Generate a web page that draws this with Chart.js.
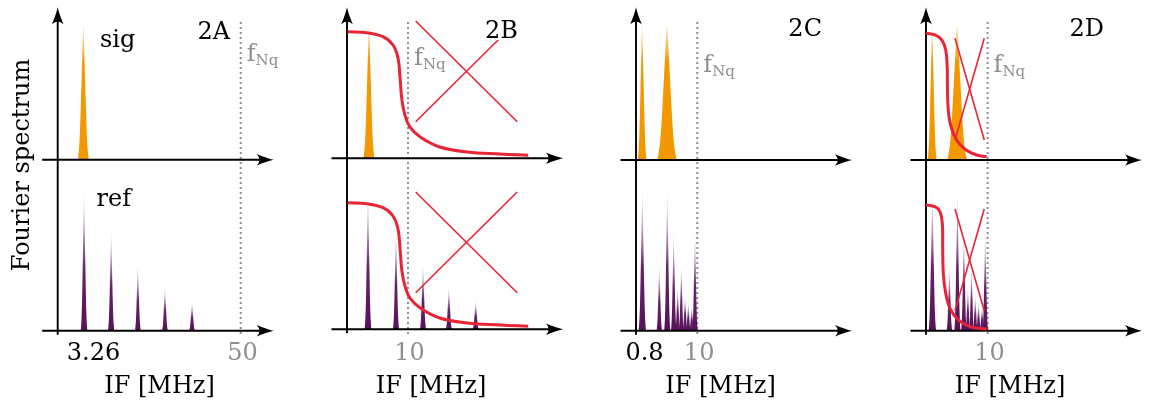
<!DOCTYPE html>
<html>
<head>
<meta charset="utf-8">
<script src="https://cdn.jsdelivr.net/npm/chart.js@4.4.1/dist/chart.umd.min.js"></script>
<style>
html, body { margin: 0; padding: 0; background: #fff; }
#fig { position: relative; width: 1155px; height: 405px; overflow: hidden; }
#fig canvas { position: absolute; top: 0; }
</style>
</head>
<body>
<div id="fig">
  <canvas id="pA" width="290" height="405" style="left:0px"></canvas>
  <canvas id="pB" width="290" height="405" style="left:290px"></canvas>
  <canvas id="pC" width="290" height="405" style="left:580px"></canvas>
  <canvas id="pD" width="285" height="405" style="left:870px"></canvas>
</div>
<script>
// ---- data (x: IF in MHz as drawn, y: relative amplitude, w: half line width) ----
const sigXA = [7.0];
const sigHA = [1.01];
const sigWA = [1.5];
const refXA = [7.2, 14.6, 21.9, 29.3, 36.7];
const refHA = [1.02, 0.73, 0.48, 0.32, 0.21];
const refWA = [0.9, 0.85, 0.8, 0.8, 0.8];

const sigXB = [3.6];
const sigHB = [1.0];
const sigWB = [0.9];
const refXB = [3.44, 8.03, 12.46, 16.7, 21.1];
const refHB = [1.01, 0.72, 0.48, 0.31, 0.21];
const refWB = [0.55, 0.5, 0.5, 0.5, 0.5];

const sigXC = [1.0, 5.05];
const sigHC = [1.01, 1.01];
const sigWC = [0.72, 1.6];
const refXC = [1.03, 3.8, 5.1, 6.15, 6.8, 7.39, 8.0, 8.53, 9.09, 9.62];
const refHC = [1.02, 0.48, 1.02, 0.72, 0.32, 0.48, 0.26, 0.21, 0.18, 0.72];
const refWC = [0.6, 0.45, 0.5, 0.45, 0.4, 0.4, 0.4, 0.4, 0.4, 0.45];

// low pass filter curves (red)
const filtXB = [0.1, 3.28, 5.9, 7.54, 8.36, 8.69, 9.0, 9.5, 10.3, 12.0, 15.2, 19.7, 25.1, 29.7];
const filtYB = [0.917, 0.910, 0.881, 0.821, 0.727, 0.589, 0.423, 0.314, 0.227, 0.154, 0.082, 0.046, 0.031, 0.022];
const filtXD1 = [0.0, 1.46, 2.55, 3.2, 3.44, 3.48, 3.62, 4.06, 4.98, 6.33, 8.23, 9.85];
const filtYD1 = [0.918, 0.906, 0.87, 0.797, 0.676, 0.531, 0.362, 0.241, 0.145, 0.078, 0.036, 0.024];
const filtXD2 = [0.0, 1.46, 2.27, 2.65, 2.71, 2.81, 3.2, 3.9, 5.24, 7.14, 9.85];
const filtYD2 = [0.911, 0.899, 0.862, 0.778, 0.609, 0.416, 0.271, 0.162, 0.078, 0.029, 0.010];

// crossed-out regions
const crossXB = [11.26, 27.9];
const crossDownB = [0.995, 0.265];
const crossUpB = [0.265, 0.995];
const crossXD = [4.71, 9.46];
const crossDownD = [0.882, 0.145];
const crossUpD = [0.145, 0.882];

// tick labels
const tickPosA = [9.78, 50.5];
const tickLabA = ['3.26', '50'];
const tickPosB = [10.25];
const tickLabB = ['10'];
const tickPosC = [1.39, 10.3];
const tickLabC = ['0.8', '10'];
const tickPosD = [10.3];
const tickLabD = ['10'];

const panelNames = ['2A', '2B', '2C', '2D'];
const nyquist = [50, 10, 10, 10];

// ---- style ----
const FONT = '"DejaVu Serif", "Liberation Serif", serif';
const FS = 24;
const GRAY = '#8e8e8e';
const RED = 'rgb(232,36,54)';
const ORANGE = [243, 152, 0];
const PURPLE = [88, 18, 90];
const PXY = 138; // px per unit of amplitude

function pts(xs, ys) {
    return xs.map((x, i) => ({ x: x, y: ys[i] }));
}

function peakSet(xs, hs, ws, axis, rgb) {
    return { type: 'scatter', data: pts(xs, hs), yAxisID: axis, pointRadius: 0,
             showLine: false, peakRgb: rgb, widths: ws };
}

function redLine(xs, ys, axis, w) {
    return { type: 'line', data: pts(xs, ys), yAxisID: axis, borderColor: RED,
             borderWidth: w, pointRadius: 0, tension: w > 2 ? 0.4 : 0, fill: false };
}

function drawPeak(ctx, x, yTop, base, hw, rgb) {
    const h = base - yTop;
    const n = 28;
    const k = u => 0.75 * (1 - u) + 0.25 * Math.pow(1 - u, 12);
    ctx.beginPath();
    ctx.moveTo(x - hw, base);
    for (let i = 1; i <= n; i++) {
        const u = i / n;
        ctx.lineTo(x - hw * k(u), base - h * u);
    }
    for (let i = n - 1; i >= 0; i--) {
        const u = i / n;
        ctx.lineTo(x + hw * k(u), base - h * u);
    }
    ctx.closePath();
    const g = ctx.createLinearGradient(0, base, 0, yTop);
    const c = rgb.join(',');
    if (rgb === ORANGE) {
        g.addColorStop(0, 'rgba(' + c + ',1)');
        g.addColorStop(0.7, 'rgba(' + c + ',1)');
        g.addColorStop(1, 'rgba(' + c + ',0.15)');
    } else {
        g.addColorStop(0, 'rgba(' + c + ',1)');
        g.addColorStop(0.45, 'rgba(' + c + ',0.92)');
        g.addColorStop(1, 'rgba(150,90,160,0.1)');
    }
    ctx.fillStyle = g;
    ctx.fill();
}

function arrowHead(ctx, tx, ty, up) {
    ctx.save();
    ctx.translate(tx, ty);
    if (up) ctx.rotate(-Math.PI / 2);
    ctx.beginPath();
    ctx.moveTo(0, 0);
    ctx.quadraticCurveTo(-7, -1.5, -17, -5.8);
    ctx.quadraticCurveTo(-11.5, 0, -17, 5.8);
    ctx.quadraticCurveTo(-7, 1.5, 0, 0);
    ctx.fillStyle = '#000';
    ctx.fill();
    ctx.restore();
}

function text(ctx, s, x, y, size, color, align) {
    ctx.font = size + 'px ' + FONT;
    ctx.fillStyle = color;
    ctx.textAlign = align || 'left';
    ctx.textBaseline = 'alphabetic';
    ctx.fillText(s, x, y);
}

const figPlugin = {
    id: 'fig',
    beforeDatasetsDraw(chart) {
        const p = chart.options.plugins.fig;
        const ctx = chart.ctx;
        const xs = chart.scales.x;
        const ox = xs.getPixelForValue(0);
        const b1 = chart.scales.ySig.getPixelForValue(0);
        const b2 = chart.scales.yRef.getPixelForValue(0);

        // Nyquist frequency
        const fx = xs.getPixelForValue(p.fnq);
        ctx.save();
        ctx.strokeStyle = GRAY;
        ctx.lineWidth = 2;
        ctx.setLineDash([2, 3]);
        ctx.beginPath();
        ctx.moveTo(fx, 22);
        ctx.lineTo(fx, b2 + 5);
        ctx.stroke();
        ctx.restore();

        // spectral lines
        chart.data.datasets.forEach((ds, i) => {
            if (!ds.peakRgb) return;
            const meta = chart.getDatasetMeta(i);
            const base = chart.scales[ds.yAxisID].getPixelForValue(0);
            const unit = xs.getPixelForValue(1) - ox;
            meta.data.forEach((el, j) => {
                drawPeak(ctx, el.x, el.y, base, ds.widths[j] * unit, ds.peakRgb);
            });
        });

        // axes with arrows
        ctx.save();
        ctx.strokeStyle = '#000';
        ctx.lineWidth = 1.9;
        ctx.beginPath();
        ctx.moveTo(ox, b2 + 4);
        ctx.lineTo(ox, 17);
        [b1, b2].forEach(b => {
            ctx.moveTo(ox - 15.5, b);
            ctx.lineTo(ox + 206, b);
        });
        ctx.stroke();
        ctx.restore();
        arrowHead(ctx, ox, 7.3, true);
        arrowHead(ctx, ox + 216, b1, false);
        arrowHead(ctx, ox + 216, b2, false);
    },
    afterDatasetsDraw(chart) {
        const p = chart.options.plugins.fig;
        const ctx = chart.ctx;
        const xs = chart.scales.x;
        const ox = xs.getPixelForValue(0);
        const fx = xs.getPixelForValue(p.fnq);
        ctx.save();

        // panel name with white box
        ctx.font = FS + 'px ' + FONT;
        const w = ctx.measureText(p.name).width;
        ctx.fillStyle = '#fff';
        ctx.fillRect(ox + p.nameDx - w - 2, p.nameY - 20, w + 4, 22);
        text(ctx, p.name, ox + p.nameDx, p.nameY, FS, '#000', 'right');

        // f_Nq
        text(ctx, 'f', fx + 6, p.fnqY, FS, GRAY, 'left');
        ctx.font = FS + 'px ' + FONT;
        const fw = ctx.measureText('f').width;
        text(ctx, 'Nq', fx + 6 + fw, p.fnqY + 4, 15, GRAY, 'left');

        // tick labels
        p.tickPos.forEach((v, i) => {
            const col = p.tickLab[i] === String(p.fnq) ? GRAY : '#000';
            text(ctx, p.tickLab[i], xs.getPixelForValue(v), 360, FS, col, 'center');
        });

        // axis title
        text(ctx, 'IF [MHz]', ox + p.titleDx, 393, FS, '#000', 'center');

        if (p.first) {
            text(ctx, 'sig', ox + 42.3, 47, FS, '#000', 'left');
            text(ctx, 'ref', ox + 38.8, 206, FS, '#000', 'left');
            ctx.translate(29, 165);
            ctx.rotate(-Math.PI / 2);
            text(ctx, 'Fourier spectrum', 0, 0, FS, '#000', 'center');
        }
        ctx.restore();
    }
};

const panels = [
    { id: 'pA', left: 0, width: 290, x0: 57.7, ux: 3.66, b1: 159.7, b2: 330.7,
      nameDx: 172.3, nameY: 39, fnqY: 61, titleDx: 101.8, first: true,
      tickPos: tickPosA, tickLab: tickLabA,
      datasets: [
          peakSet(sigXA, sigHA, sigWA, 'ySig', ORANGE),
          peakSet(refXA, refHA, refWA, 'yRef', PURPLE)
      ] },
    { id: 'pB', left: 290, width: 290, x0: 347, ux: 6.1, b1: 158.3, b2: 329.3,
      nameDx: 171, nameY: 38, fnqY: 65, titleDx: 84,
      tickPos: tickPosB, tickLab: tickLabB,
      datasets: [
          peakSet(sigXB, sigHB, sigWB, 'ySig', ORANGE),
          peakSet(refXB, refHB, refWB, 'yRef', PURPLE),
          redLine(filtXB, filtYB, 'ySig', 3),
          redLine(filtXB, filtYB, 'yRef', 3),
          redLine(crossXB, crossDownB, 'ySig', 1.6),
          redLine(crossXB, crossUpB, 'ySig', 1.6),
          redLine(crossXB, crossDownB, 'yRef', 1.6),
          redLine(crossXB, crossUpB, 'yRef', 1.6)
      ] },
    { id: 'pC', left: 580, width: 290, x0: 636, ux: 6.13, b1: 160, b2: 330.7,
      nameDx: 186, nameY: 36, fnqY: 71.5, titleDx: 84.5,
      tickPos: tickPosC, tickLab: tickLabC,
      datasets: [
          peakSet(sigXC, sigHC, sigWC, 'ySig', ORANGE),
          peakSet(refXC, refHC, refWC, 'yRef', PURPLE)
      ] },
    { id: 'pD', left: 870, width: 285, x0: 926, ux: 6.16, b1: 160, b2: 330.7,
      nameDx: 178, nameY: 36, fnqY: 71.5, titleDx: 84,
      tickPos: tickPosD, tickLab: tickLabD,
      datasets: [
          peakSet(sigXC, sigHC, sigWC, 'ySig', ORANGE),
          peakSet(refXC, refHC, refWC, 'yRef', PURPLE),
          redLine(filtXD1, filtYD1, 'ySig', 3),
          redLine(filtXD2, filtYD2, 'yRef', 3),
          redLine(crossXD, crossDownD, 'ySig', 1.6),
          redLine(crossXD, crossUpD, 'ySig', 1.6),
          redLine(crossXD, crossDownD, 'yRef', 1.6),
          redLine(crossXD, crossUpD, 'yRef', 1.6)
      ] }
];

panels.forEach((pn, k) => {
    const x0 = pn.x0 - pn.left;
    new Chart(document.getElementById(pn.id), {
        type: 'line',
        data: { datasets: pn.datasets },
        options: {
            responsive: false,
            animation: false,
            events: [],
            layout: { padding: 0 },
            scales: {
                x: { type: 'linear', display: false,
                     min: -x0 / pn.ux, max: (pn.width - x0) / pn.ux },
                ySig: { type: 'linear', display: false,
                        min: -(405 - pn.b1) / PXY, max: pn.b1 / PXY },
                yRef: { type: 'linear', display: false,
                        min: -(405 - pn.b2) / PXY, max: pn.b2 / PXY }
            },
            plugins: {
                legend: { display: false },
                tooltip: { enabled: false },
                fig: {
                    fnq: nyquist[k], name: panelNames[k], nameDx: pn.nameDx, nameY: pn.nameY,
                    fnqY: pn.fnqY, titleDx: pn.titleDx, first: !!pn.first,
                    tickPos: pn.tickPos, tickLab: pn.tickLab
                }
            }
        },
        plugins: [figPlugin]
    });
});
</script>
</body>
</html>
